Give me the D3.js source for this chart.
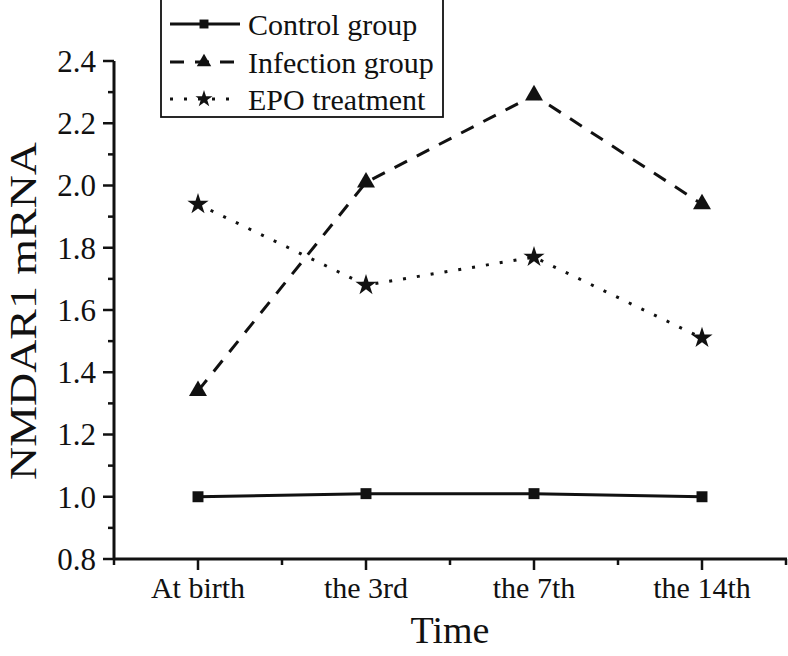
<!DOCTYPE html>
<html>
<head>
<meta charset="utf-8">
<script src="https://cdn.jsdelivr.net/npm/d3@7"></script>
<style>
  html, body { margin: 0; padding: 0; background: #fff; }
  svg { display: block; }
</style>
</head>
<body>
<svg id="chart" width="788" height="656"></svg>
<script>
const categories = ["At birth", "the 3rd", "the 7th", "the 14th"];
const controlGroup = [1.00, 1.01, 1.01, 1.00];
const infectionGroup = [1.34, 2.01, 2.29, 1.94];
const epoTreatment = [1.94, 1.68, 1.77, 1.51];
const yTicks = [0.8, 1.0, 1.2, 1.4, 1.6, 1.8, 2.0, 2.2, 2.4];
const seriesNames = ["Control group", "Infection group", "EPO treatment"];

const FONT = "'Liberation Serif', 'DejaVu Serif', serif";

const series = [
  { name: seriesNames[0], values: controlGroup, dash: null, symbol: d3.symbolSquare, size: 120, lsize: 80 },
  { name: seriesNames[1], values: infectionGroup, dash: "14,11", symbol: d3.symbolTriangle, size: 140, lsize: 90 },
  { name: seriesNames[2], values: epoTreatment, dash: "3,11", symbol: d3.symbolStar, size: 140, lsize: 90 }
];

const svg = d3.select("#chart");
const x = d3.scaleLinear().domain([-0.5, 3.5]).range([114, 786]);
const y = d3.scaleLinear().domain([0.8, 2.4]).range([559, 61]);
const ink = "#111";

function txt(sel) {
  return sel.attr("font-family", FONT).attr("fill", ink).style("font-family", FONT);
}

// Y axis
const yAxis = svg.append("g").attr("transform", "translate(114,0)");
yAxis.append("line").attr("x1", 0).attr("x2", 0).attr("y1", y(2.4)).attr("y2", y(0.8))
  .attr("stroke", ink).attr("stroke-width", 3);
const yMinor = d3.range(9, 24, 2).map(v => v / 10);
yAxis.selectAll(".ymin").data(yMinor).enter().append("line")
  .attr("x1", -6).attr("x2", 0).attr("y1", d => y(d)).attr("y2", d => y(d))
  .attr("stroke", ink).attr("stroke-width", 2.5);
yAxis.selectAll(".ymaj").data(yTicks).enter().append("line")
  .attr("x1", -11).attr("x2", 0).attr("y1", d => y(d)).attr("y2", d => y(d))
  .attr("stroke", ink).attr("stroke-width", 2.5);
txt(yAxis.selectAll(".ylab").data(yTicks).enter().append("text"))
  .attr("x", -18).attr("y", d => y(d)).attr("dy", "0.35em")
  .attr("text-anchor", "end").attr("font-size", 31)
  .text(d => d.toFixed(1));

// X axis
const xAxis = svg.append("g").attr("transform", "translate(0,559)");
xAxis.append("line").attr("x1", 113).attr("x2", 787).attr("y1", 0).attr("y2", 0)
  .attr("stroke", ink).attr("stroke-width", 3);
const xMinor = [-0.5, 0.5, 1.5, 2.5, 3.5];
xAxis.selectAll(".xmin").data(xMinor).enter().append("line")
  .attr("x1", d => x(d)).attr("x2", d => x(d)).attr("y1", 0).attr("y2", 6)
  .attr("stroke", ink).attr("stroke-width", 2.5);
xAxis.selectAll(".xmaj").data(categories).enter().append("line")
  .attr("x1", (d, i) => x(i)).attr("x2", (d, i) => x(i)).attr("y1", 0).attr("y2", 11)
  .attr("stroke", ink).attr("stroke-width", 2.5);
txt(xAxis.selectAll(".xlab").data(categories).enter().append("text"))
  .attr("x", (d, i) => x(i)).attr("y", 39)
  .attr("text-anchor", "middle").attr("font-size", 30)
  .text(d => d);

// Axis titles
txt(svg.append("text")).attr("x", 450).attr("y", 643).attr("text-anchor", "middle")
  .attr("font-size", 38).text("Time");
txt(svg.append("text")).attr("transform", "translate(36,311) rotate(-90)")
  .attr("text-anchor", "middle").attr("font-size", 38)
  .attr("textLength", 338).attr("lengthAdjust", "spacingAndGlyphs")
  .text("NMDAR1 mRNA");

// Lines and markers
const line = d3.line().x((d, i) => x(i)).y(d => y(d));
series.forEach(s => {
  svg.append("path").datum(s.values).attr("d", line)
    .attr("fill", "none").attr("stroke", ink).attr("stroke-width", 3)
    .attr("stroke-dasharray", s.dash);
  svg.selectAll(null).data(s.values).enter().append("path")
    .attr("d", d3.symbol().type(s.symbol).size(s.size))
    .attr("transform", (d, i) => `translate(${x(i)},${y(d)})`)
    .attr("fill", ink);
});

// Legend
const lg = svg.append("g");
lg.append("rect").attr("x", 161).attr("y", -1).attr("width", 282).attr("height", 118)
  .attr("fill", "#fff").attr("stroke", ink).attr("stroke-width", 1.8);
const rowY = [24, 62, 99];
series.forEach((s, i) => {
  lg.append("line").attr("x1", 170).attr("x2", 240).attr("y1", rowY[i]).attr("y2", rowY[i])
    .attr("stroke", ink).attr("stroke-width", 3).attr("stroke-dasharray", s.dash);
  lg.append("path").attr("d", d3.symbol().type(s.symbol).size(s.lsize))
    .attr("transform", `translate(204,${rowY[i]})`).attr("fill", ink);
  txt(lg.append("text")).attr("x", 248).attr("y", rowY[i]).attr("dy", "0.35em")
    .attr("font-size", 30).text(s.name);
});
</script>
</body>
</html>
